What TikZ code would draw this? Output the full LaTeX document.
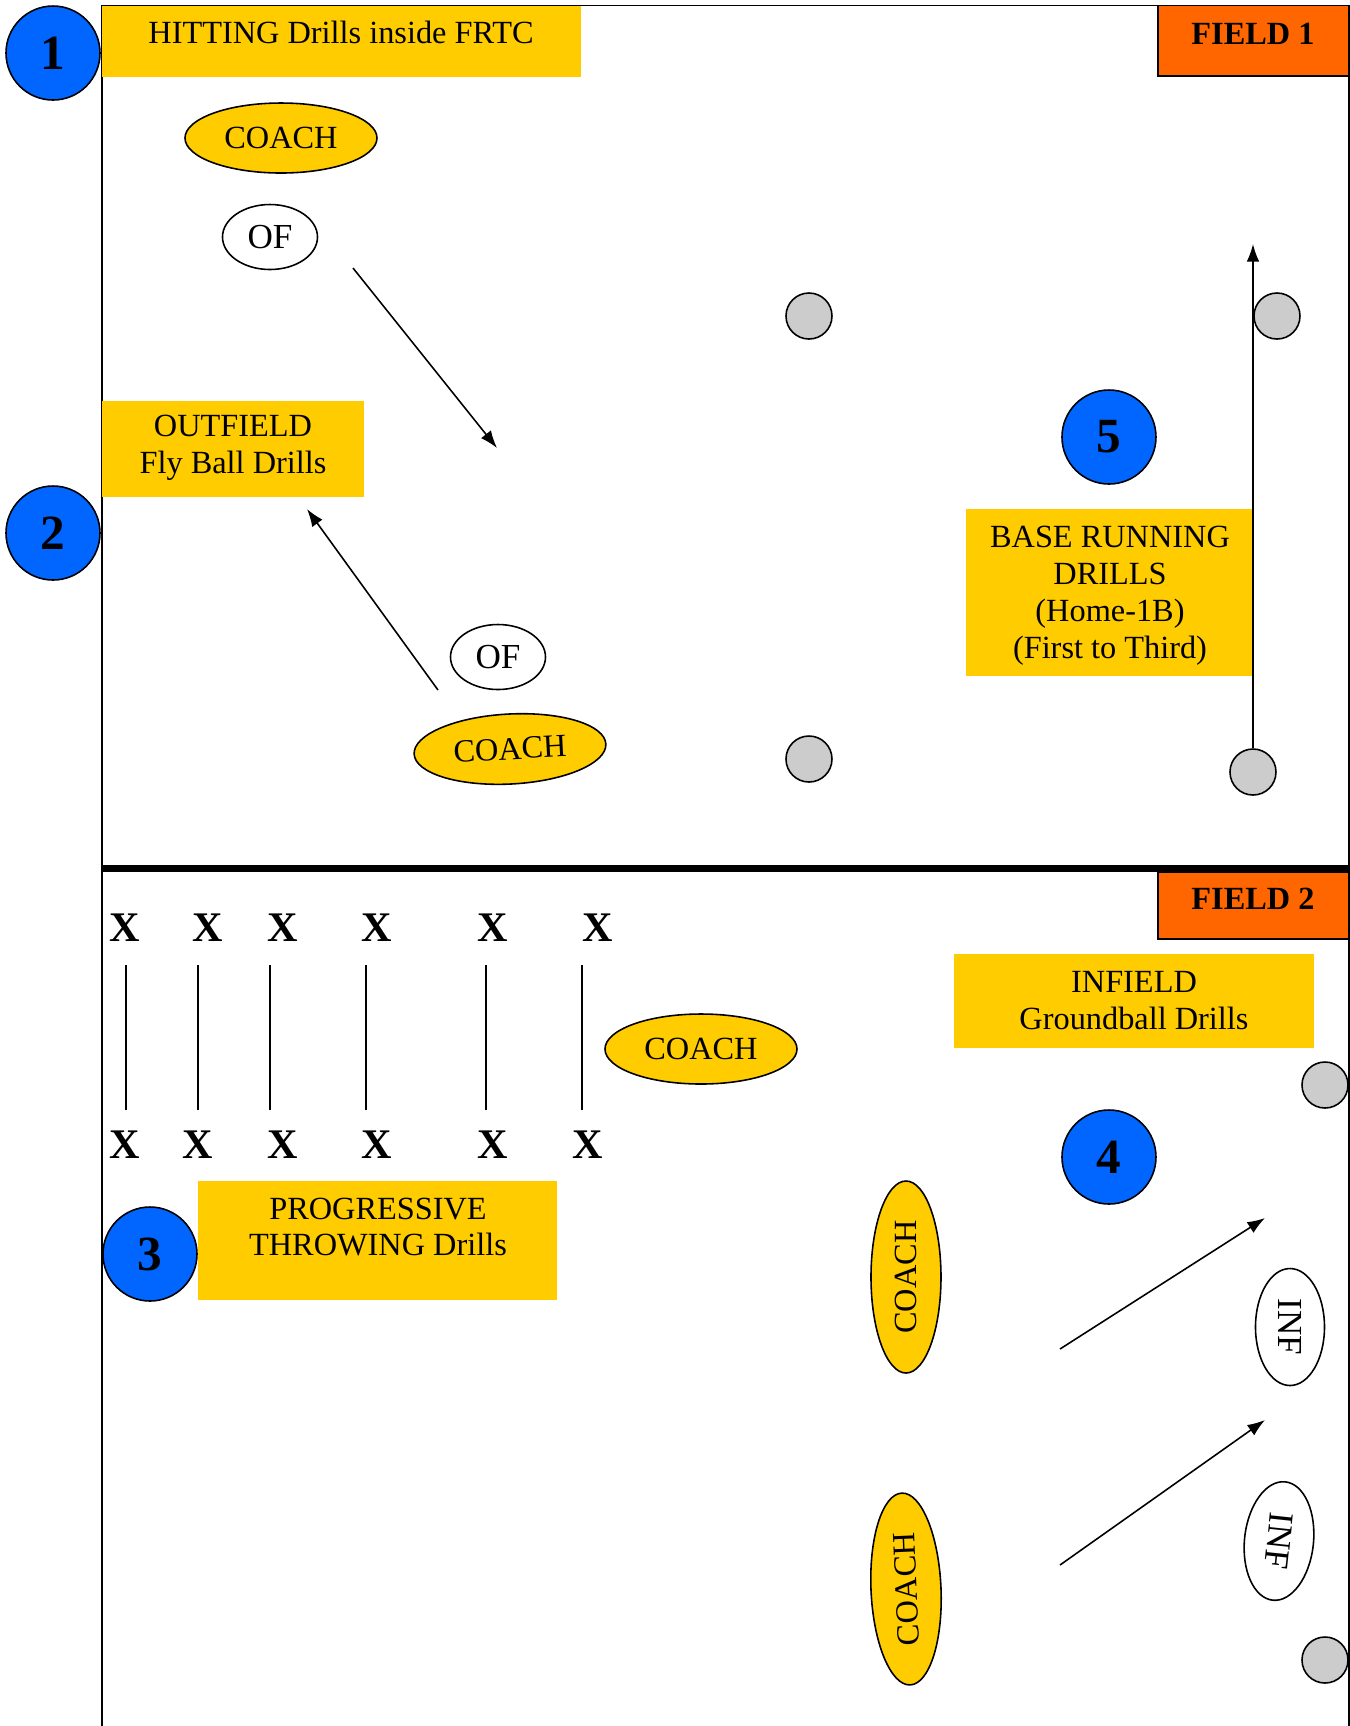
\documentclass[tikz,border=0pt]{standalone}
\usepackage{fontspec}
\setmainfont{Liberation Serif}
\usetikzlibrary{shapes.geometric,arrows.meta}

\definecolor{drillyellow}{HTML}{FFCC00}
\definecolor{fieldorange}{HTML}{FF6600}
\definecolor{stationblue}{HTML}{0066FF}
\definecolor{baggray}{HTML}{CCCCCC}

\tikzset{
  coach/.style={ellipse, draw, fill=drillyellow, line width=0.45pt, inner sep=0pt,
    minimum width=19.2mm, minimum height=7mm, font=\fontsize{9.2}{11}\selectfont},
  player/.style={ellipse, draw, fill=white, line width=0.45pt, inner sep=0pt,
    minimum width=9.5mm, minimum height=6.5mm, font=\fontsize{10}{12}\selectfont},
  bag/.style={circle, draw, fill=baggray, line width=0.45pt, inner sep=0pt, minimum size=4.6mm},
  station/.style={circle, draw, fill=stationblue, line width=0.45pt, inner sep=0pt,
    minimum size=9.4mm, font=\fontsize{14}{16}\bfseries\selectfont},
  drilltext/.style={align=center, inner sep=0pt, font=\fontsize{9.2}{10.5}\selectfont},
  fieldtext/.style={inner sep=0pt, anchor=base, font=\fontsize{9.2}{11}\bfseries\selectfont},
  thrower/.style={inner sep=0pt, anchor=base, font=\fontsize{12}{14}\bfseries\selectfont},
  run/.style={line width=0.45pt, -{Latex[length=5pt,width=3.6pt]}},
}

\begin{document}
\begin{tikzpicture}[x=0.1mm, y=-0.1mm]
  \useasboundingbox (0,0) rectangle (1350,1726);

  % field outline
  \draw[line width=0.5pt] (102,1726) -- (102,5.5) -- (1349,5.5) -- (1349,1726);

  % drill boxes
  \fill[drillyellow] (102,5.5) rectangle (581,77);
  \fill[drillyellow] (102,401) rectangle (364,497);
  \fill[drillyellow] (966,509) rectangle (1253,676);
  \fill[drillyellow] (954,954) rectangle (1314,1048);
  \fill[drillyellow] (198,1181) rectangle (557,1300);

  \node[drilltext, anchor=base] (hitting) at (341,43) {HITTING Drills inside FRTC};
  \node[drilltext] (outfield) at (233,448) {OUTFIELD\\Fly Ball Drills};
  \node[drilltext] (running) at (1110,596) {BASE RUNNING\\DRILLS\\(Home-1B)\\(First to Third)};
  \node[drilltext] (infield) at (1134,1001) {INFIELD\\Groundball Drills};
  \node[drilltext] (throwing) at (378,1227) {PROGRESSIVE\\THROWING Drills};

  % field tags
  \filldraw[fill=fieldorange, line width=0.5pt] (1158,5.5) rectangle (1349,76);
  \node[fieldtext] (field1) at (1253,44) {FIELD 1};
  \filldraw[fill=fieldorange, line width=0.5pt] (1158,872) rectangle (1349,939);
  \node[fieldtext] (field2) at (1253,909) {FIELD 2};
  \draw[line width=2.2pt] (102,868.5) -- (1349,868.5);

  % stations
  \node[station] (st1) at (53,53) {1};
  \node[station] (st2) at (53,533) {2};
  \node[station] (st3) at (150,1254) {3};
  \node[station] (st4) at (1109,1157) {4};
  \node[station] (st5) at (1109,437) {5};

  % field 1
  \node[coach] (coach1) at (281,138) {COACH};
  \node[player] (of1) at (270,237) {OF};
  \node[player] (of2) at (498,657) {OF};
  \node[coach, rotate=3] (coach2) at (510,749) {COACH};

  \node[bag] (bag1) at (809,316) {};
  \node[bag] (bag2) at (1277,316) {};
  \node[bag] (bag3) at (809,759) {};
  \node[bag] (bag4) at (1253,772) {};

  \coordinate (fly1) at (353,268);
  \coordinate (fly1end) at (497,448);
  \coordinate (fly2) at (438,690);
  \coordinate (fly2end) at (307,509);
  \coordinate (runend) at (1253,244);
  \draw[run] (fly1) -- (fly1end);
  \draw[run] (fly2) -- (fly2end);
  \draw[run] (bag4.north) -- (runend);

  % field 2
  \foreach \tx/\bx/\lx [count=\i] in {125/125/126, 208/198/198, 283/283/270, 377/377/366, 493/493/486, 598/588/582} {
    \node[thrower] (top\i) at (\tx,941) {X};
    \node[thrower] (bot\i) at (\bx,1158) {X};
    \draw[line width=0.45pt] (\lx,965) -- (\lx,1110);
  }
  \node[coach] (coach3) at (701,1049) {COACH};
  \node[coach, rotate=90] (coach4) at (906,1277) {COACH};
  \node[coach, rotate=92.5] (coach5) at (906,1589) {COACH};
  \node[player, minimum width=11.7mm, minimum height=6.9mm, rotate=-90] (inf1) at (1290,1327) {INF};
  \node[player, minimum width=11.9mm, minimum height=6.9mm, rotate=-96] (inf2) at (1279,1541) {INF};

  \node[bag] (bag5) at (1325,1085) {};
  \node[bag] (bag6) at (1325,1660) {};

  \coordinate (grd1) at (1060,1349);
  \coordinate (grd1end) at (1265,1218);
  \coordinate (grd2) at (1060,1565);
  \coordinate (grd2end) at (1265,1420);
  \draw[run] (grd1) -- (grd1end);
  \draw[run] (grd2) -- (grd2end);
\end{tikzpicture}
\end{document}
